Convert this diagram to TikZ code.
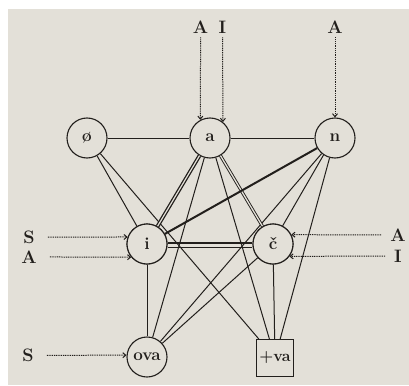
\documentclass[tikz,border=0pt]{standalone}
\usepackage{fontspec}
\usetikzlibrary{arrows.meta}
\definecolor{paper}{HTML}{E3E0D8}
\definecolor{ink}{HTML}{221F1C}
\begin{document}
\begin{tikzpicture}[x=1pt,y=-1pt,
  vx/.style={circle,draw=ink,line width=1.1pt,fill=paper,minimum size=40pt,inner sep=0pt,
    font=\fontsize{17}{20}\selectfont\bfseries,text=ink},
  bx/.style={rectangle,draw=ink,line width=1.1pt,fill=paper,minimum size=37pt,inner sep=0pt,
    font=\fontsize{16}{20}\selectfont\bfseries,text=ink},
  lbl/.style={font=\fontsize{18}{20}\selectfont\bfseries,text=ink,inner sep=0pt},
  edge/.style={draw=ink,line width=1pt},
  heavy/.style={draw=ink,line width=2pt},
  dbl/.style={draw=ink,double=paper,double distance=1.2pt,line width=1.3pt},
  dblthin/.style={draw=ink,double=paper,double distance=1.3pt,line width=0.9pt},
  inp/.style={draw=ink,line width=1pt,dash pattern=on 1pt off 0.8pt,
    -{Straight Barb[length=3pt,width=5pt]}},
]
\fill[white] (0,0) rectangle (409,385);
\fill[paper] (8,9) rectangle (409,385);
\useasboundingbox (0,0) rectangle (409,385);

% nodes
\node[vx] (z) at (87,138) {ø};
\node[vx] (a) at (210,138) {a};
\node[vx] (n) at (335,138) {n};
\node[vx] (i) at (147,244) {i};
\node[vx] (c) at (273,244) {č};
\node[vx] (o) at (147,357) {ova};
\node[bx] (v) at (275,358) {+va};

% edges
\draw[edge] (z) -- (a);
\draw[edge] (a) -- (n);
\draw[edge] (z) -- (i);
\draw[edge] (z) -- (v);
\draw[edge] (a) -- (o);
\draw[edge] (a) -- (v);
\draw[edge] (n) -- (o);
\draw[edge] (n.236) -- (c.62);
\draw[edge] (n) -- (v);
\draw[edge] (i) -- (o);
\draw[edge] (c) -- (o);
\draw[edge] (c) -- (v);
\draw[dbl] (a) -- (i);
\draw[dblthin] (a) -- (c);
\draw[heavy] (n) -- (i);
\draw[draw=ink,line width=2.2pt] ([yshift=1pt]i.east) -- ([yshift=1pt]c.west);
\draw[draw=ink,line width=1pt] ([yshift=-3pt]i.east) -- ([yshift=-3pt]c.west);

% redraw node outlines on top
\node[vx] at (i) {i};
\node[vx] at (c) {č};

% input labels
\node[lbl] (tA) at (200.6,27) {A};
\node[lbl] (tI) at (222.5,27) {I};
\node[lbl] (nA) at (335,27) {A};
\node[lbl] (lS) at (29,237.2) {S};
\node[lbl] (lA) at (29,256.9) {A};
\node[lbl] (rA) at (398,235) {A};
\node[lbl] (rI) at (398,256) {I};
\node[lbl] (oS) at (28,355.3) {S};

\draw[inp,shorten <=4pt] (tA) -- (a.118);
\draw[inp,shorten <=4pt] (tI) -- (a.51);
\draw[inp,shorten <=4pt] (nA) -- (n.north);
\draw[inp,shorten <=13pt] (lS) -- (i.160);
\draw[inp,shorten <=13pt] (lA) -- (i.220);
\draw[inp,shorten <=9pt] (rA) -- (c.27);
\draw[inp,shorten <=9pt] (rI) -- (c.323);
\draw[inp,shorten <=13pt] (oS) -- (o.175);
\end{tikzpicture}
\end{document}
